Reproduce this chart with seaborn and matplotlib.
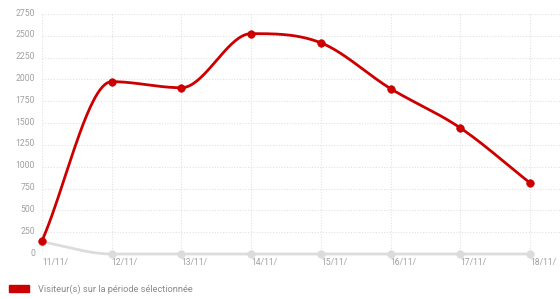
import numpy as np
import pandas as pd
import matplotlib
matplotlib.use("Agg")
import matplotlib.pyplot as plt
import matplotlib.transforms as mtransforms
from matplotlib.patches import Patch
import seaborn as sns

# ---- data ----
dates = ["11/11/", "12/11/", "13/11/", "14/11/", "15/11/", "16/11/", "17/11/", "18/11/"]
visitors = [150, 1975, 1905, 2525, 2420, 1895, 1445, 815]
previous = [140, 0, 0, 0, 0, 0, 0, 0]
yticks = [0, 250, 500, 750, 1000, 1250, 1500, 1750, 2000, 2250, 2500, 2750]
legend_label = "Visiteur(s) sur la période sélectionnée"

RED = "#cc0000"
GREY = "#dcdcdc"
TICK = "#a0a0a0"

sns.set_theme(style="white")
plt.rcParams["font.family"] = ["Roboto", "DejaVu Sans"]

W, H = 560, 299
fig = plt.figure(figsize=(W / 100, H / 100), dpi=100)
ax = fig.add_axes([42 / W, (H - 254) / H, (W - 42) / W, (254 - 14) / H])

x = np.arange(len(dates))


def monotone(xs, ys, n=40):
    xs = np.asarray(xs, float)
    ys = np.asarray(ys, float)
    m = len(xs)
    d = np.diff(ys) / np.diff(xs)
    mk = np.zeros(m)
    mk[0], mk[-1] = d[0], d[-1]
    for i in range(1, m - 1):
        mk[i] = 0 if d[i - 1] * d[i] <= 0 else (d[i - 1] + d[i]) / 2
    for i in range(m - 1):
        if d[i] == 0:
            mk[i] = mk[i + 1] = 0
            continue
        a = mk[i] / d[i]
        b = mk[i + 1] / d[i]
        s = a * a + b * b
        if s > 9:
            tau = 3 / np.sqrt(s)
            mk[i] = tau * a * d[i]
            mk[i + 1] = tau * b * d[i]
    outx, outy = [], []
    t = np.linspace(0, 1, n)
    for i in range(m - 1):
        h = xs[i + 1] - xs[i]
        h00 = 2 * t ** 3 - 3 * t ** 2 + 1
        h10 = t ** 3 - 2 * t ** 2 + t
        h01 = -2 * t ** 3 + 3 * t ** 2
        h11 = t ** 3 - t ** 2
        outx.extend(xs[i] + t * h)
        outy.extend(h00 * ys[i] + h10 * h * mk[i] + h01 * ys[i + 1] + h11 * h * mk[i + 1])
    return np.array(outx), np.array(outy)


# grid
for v in yticks:
    ax.axhline(v, color="#e2e2e2", lw=0.8, ls=(0, (1, 1.5)), zorder=0)
for xi in x:
    ax.axvline(xi, color="#e2e2e2", lw=0.8, ls=(0, (1, 1.5)), zorder=0)

# grey series
gx, gy = monotone(x, previous)
sns.lineplot(x=gx, y=gy, ax=ax, color=GREY, lw=2.0, sort=False, zorder=2, clip_on=False)
sns.scatterplot(x=x, y=previous, ax=ax, color=GREY, s=30, edgecolor=GREY, zorder=3, clip_on=False)

# red series
rx, ry = monotone(x, visitors)
sns.lineplot(x=rx, y=ry, ax=ax, color=RED, lw=2.0, sort=False, zorder=4, clip_on=False)
sns.scatterplot(x=x, y=visitors, ax=ax, color=RED, s=30, edgecolor=RED, zorder=5, clip_on=False)

ax.set_xlim(0, 7 + 30 / 69.6)
ax.set_ylim(0, 2750)
for s in ax.spines.values():
    s.set_visible(False)

ax.set_xticks(x)
ax.set_xticklabels(dates, fontsize=6.2, color=TICK, ha="left")
ax.set_yticks(yticks)
ax.set_yticklabels([str(v) for v in yticks], fontsize=6.2, color=TICK)
ax.tick_params(axis="both", length=0)
ax.tick_params(axis="x", pad=3)
ax.tick_params(axis="y", pad=5)
off = mtransforms.ScaledTranslation(0, 2 / 100, fig.dpi_scale_trans)
for lab in ax.get_yticklabels():
    lab.set_transform(lab.get_transform() + off)
ax.set_xlabel("")
ax.set_ylabel("")

fig.legend(handles=[Patch(color=RED)], labels=[legend_label],
           loc="lower left", bbox_to_anchor=(9 / W, 5 / H), frameon=False,
           fontsize=6.7, handlelength=2.2, handleheight=0.8, handletextpad=0.9,
           labelcolor="#8a8a8a", borderaxespad=0, borderpad=0)

fig.savefig("out.png", dpi=100)
